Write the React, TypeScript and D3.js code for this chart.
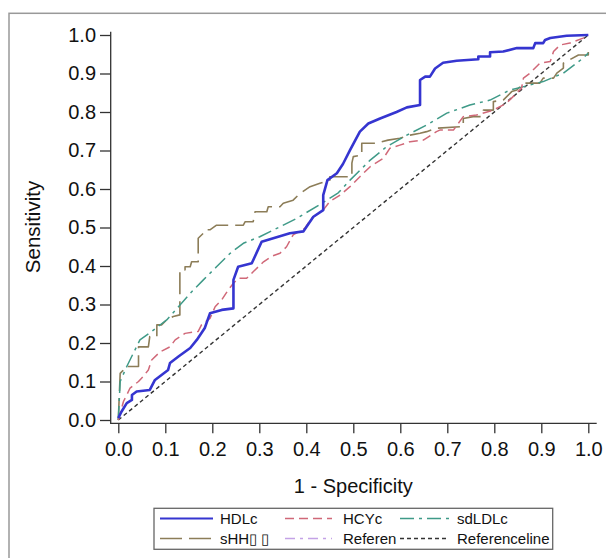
import { useRef, useEffect } from "react";
import * as d3 from "d3";

type Pt = [number, number];

// 1 - specificity, sensitivity
const hdlc: Pt[] = [
  [0, 0.005], [0.007, 0.022], [0.018, 0.044], [0.029, 0.052], [0.029, 0.065],
  [0.039, 0.074], [0.067, 0.078], [0.078, 0.104], [0.092, 0.117], [0.106, 0.13],
  [0.11, 0.148], [0.128, 0.165], [0.153, 0.187], [0.167, 0.208], [0.184, 0.239],
  [0.195, 0.277], [0.22, 0.286], [0.245, 0.29], [0.245, 0.364], [0.255, 0.398],
  [0.284, 0.407], [0.305, 0.463], [0.365, 0.485], [0.394, 0.49], [0.415, 0.528],
  [0.436, 0.545], [0.436, 0.584], [0.445, 0.623], [0.465, 0.641], [0.478, 0.665],
  [0.493, 0.701], [0.514, 0.749], [0.532, 0.77], [0.557, 0.783], [0.592, 0.8],
  [0.614, 0.812], [0.642, 0.818], [0.642, 0.883], [0.653, 0.892], [0.663, 0.892],
  [0.674, 0.913], [0.691, 0.928], [0.72, 0.933], [0.766, 0.937], [0.766, 0.944],
  [0.791, 0.944], [0.791, 0.955], [0.819, 0.957], [0.848, 0.966], [0.883, 0.966],
  [0.887, 0.979], [0.904, 0.979], [0.908, 0.987], [0.919, 0.992], [0.954, 0.998],
  [1, 1],
];

const hcyc: Pt[] = [
  [0, 0], [0.004, 0.017], [0.011, 0.048], [0.018, 0.065], [0.025, 0.083],
  [0.043, 0.1], [0.053, 0.113], [0.064, 0.13], [0.071, 0.156], [0.089, 0.177],
  [0.11, 0.19], [0.121, 0.208], [0.142, 0.225], [0.17, 0.23], [0.177, 0.247],
  [0.195, 0.264], [0.206, 0.294], [0.22, 0.312], [0.234, 0.338], [0.245, 0.355],
  [0.255, 0.368], [0.273, 0.368], [0.287, 0.385], [0.309, 0.411], [0.326, 0.425],
  [0.344, 0.433], [0.358, 0.45], [0.372, 0.481], [0.397, 0.498], [0.411, 0.524],
  [0.436, 0.545], [0.45, 0.568], [0.472, 0.584], [0.493, 0.606], [0.514, 0.632],
  [0.536, 0.658], [0.564, 0.68], [0.578, 0.706], [0.599, 0.714], [0.621, 0.723],
  [0.649, 0.727], [0.677, 0.749], [0.684, 0.753], [0.713, 0.753], [0.734, 0.788],
  [0.762, 0.792], [0.798, 0.805], [0.826, 0.823], [0.84, 0.84], [0.858, 0.862],
  [0.862, 0.888], [0.876, 0.901], [0.897, 0.927], [0.919, 0.931], [0.926, 0.957],
  [0.94, 0.974], [0.961, 0.979], [0.989, 0.992], [1, 1],
];

const sdldlc: Pt[] = [
  [0, 0], [0.004, 0.1], [0.018, 0.139], [0.046, 0.208], [0.071, 0.23],
  [0.103, 0.26], [0.128, 0.294], [0.153, 0.329], [0.181, 0.364], [0.209, 0.398],
  [0.238, 0.433], [0.266, 0.459], [0.301, 0.476], [0.344, 0.502], [0.38, 0.524],
  [0.436, 0.565], [0.468, 0.59], [0.493, 0.623], [0.536, 0.675], [0.571, 0.71],
  [0.614, 0.74], [0.656, 0.766], [0.699, 0.797], [0.748, 0.818], [0.791, 0.831],
  [0.833, 0.857], [0.876, 0.87], [0.904, 0.879], [0.947, 0.901], [0.989, 0.94],
  [1, 0.953],
];

const shhcy: Pt[] = [
  [0, 0], [0.004, 0.121], [0.011, 0.13], [0.014, 0.139], [0.032, 0.139],
  [0.043, 0.139], [0.043, 0.19], [0.064, 0.19], [0.067, 0.217], [0.082, 0.217],
  [0.082, 0.247], [0.092, 0.247], [0.103, 0.26], [0.117, 0.269], [0.131, 0.273],
  [0.131, 0.39], [0.142, 0.39], [0.142, 0.398], [0.153, 0.398], [0.156, 0.411],
  [0.17, 0.411], [0.17, 0.472], [0.181, 0.485], [0.184, 0.494], [0.195, 0.494],
  [0.209, 0.506], [0.266, 0.506], [0.27, 0.515], [0.287, 0.515], [0.291, 0.541],
  [0.316, 0.541], [0.319, 0.554], [0.344, 0.554], [0.351, 0.563], [0.372, 0.571],
  [0.387, 0.589], [0.408, 0.606], [0.429, 0.615], [0.45, 0.623], [0.45, 0.632],
  [0.497, 0.632], [0.497, 0.667], [0.5, 0.684], [0.518, 0.688], [0.518, 0.719],
  [0.55, 0.719], [0.574, 0.727], [0.599, 0.732], [0.621, 0.74], [0.642, 0.745],
  [0.656, 0.749], [0.677, 0.758], [0.734, 0.762], [0.734, 0.783], [0.755, 0.788],
  [0.773, 0.788], [0.777, 0.805], [0.798, 0.805], [0.798, 0.827], [0.819, 0.831],
  [0.837, 0.853], [0.848, 0.857], [0.862, 0.875], [0.897, 0.875], [0.904, 0.888],
  [0.926, 0.888], [0.933, 0.901], [0.947, 0.914], [0.947, 0.927], [0.979, 0.948],
  [1, 0.948], [1, 0.97],
];

const refLine: Pt[] = [[0, 0], [1, 1]];

const ticks = [0, 0.1, 0.2, 0.3, 0.4, 0.5, 0.6, 0.7, 0.8, 0.9, 1.0];

const series = [
  { name: "HDLc", data: hdlc, color: "#3535d0", width: 2.6, dash: "" },
  { name: "HCYc", data: hcyc, color: "#d06878", width: 1.5, dash: "9,5" },
  { name: "sdLDLc", data: sdldlc, color: "#3f9a88", width: 1.5, dash: "14,5,3,5" },
  { name: "sHH\u25AF \u25AF", data: shhcy, color: "#8c7d58", width: 1.6, dash: "22,7" },
  { name: "Referen", data: null, color: "#c4a2e6", width: 1.5, dash: "10,5,3,5" },
  { name: "Referenceline", data: refLine, color: "#333333", width: 1.4, dash: "4,3" },
];

const W = 606;
const H = 558;
const FONT = "'Liberation Sans', Arial, sans-serif";

const RocChart = () => {
  const svgRef = useRef<SVGSVGElement>(null);

  useEffect(() => {
    const svg = d3.select(svgRef.current);
    svg.selectAll("*").remove();

    const x = d3.scaleLinear().domain([0, 1]).range([118.3, 588.3]);
    const y = d3.scaleLinear().domain([0, 1]).range([420, 35]);
    const axisX = 110.7;
    const axisY = 423.3;

    // outer frame
    svg
      .append("rect")
      .attr("x", 9)
      .attr("y", 13.3)
      .attr("width", 700)
      .attr("height", 700)
      .attr("fill", "white")
      .attr("stroke", "#999")
      .attr("stroke-width", 1.5);

    // curves
    const line = d3
      .line<Pt>()
      .x((d) => x(d[0]))
      .y((d) => y(d[1]));

    const drawOrder = [5, 3, 2, 1, 0];
    drawOrder.forEach((i) => {
      const s = series[i];
      if (!s.data) return;
      svg
        .append("path")
        .attr("d", line(s.data))
        .attr("fill", "none")
        .attr("stroke", s.color)
        .attr("stroke-width", s.width)
        .attr("stroke-dasharray", s.dash || null)
        .attr("stroke-linejoin", "round");
    });

    // axes
    const fmt = d3.format(".1f");
    const gy = svg
      .append("g")
      .attr("transform", `translate(${axisX},0)`)
      .call(d3.axisLeft(y).tickValues(ticks).tickFormat((d) => fmt(+d)).tickSize(10.7).tickSizeOuter(0).tickPadding(4));
    const gx = svg
      .append("g")
      .attr("transform", `translate(0,${axisY})`)
      .call(d3.axisBottom(x).tickValues(ticks).tickFormat((d) => fmt(+d)).tickSize(10).tickPadding(9));
    [gx, gy].forEach((g) => {
      g.select(".domain").remove();
      g.selectAll("line").attr("stroke", "#333").attr("stroke-width", 1.3);
      g.selectAll("text")
        .attr("font-family", FONT)
        .attr("font-size", 20)
        .attr("fill", "#111");
    });
    svg
      .append("path")
      .attr("d", `M${axisX},31.7V${axisY}H596.7`)
      .attr("fill", "none")
      .attr("stroke", "#333")
      .attr("stroke-width", 1.3);

    // axis titles
    svg
      .append("text")
      .attr("x", (x(0) + x(1)) / 2)
      .attr("y", 493)
      .attr("text-anchor", "middle")
      .attr("font-family", FONT)
      .attr("font-size", 20)
      .attr("fill", "#111")
      .text("1 - Specificity");
    svg
      .append("text")
      .attr("transform", "translate(40,227) rotate(-90)")
      .attr("text-anchor", "middle")
      .attr("font-family", FONT)
      .attr("font-size", 20.5)
      .attr("fill", "#111")
      .text("Sensitivity");

    // legend
    const lg = svg.append("g");
    lg.append("rect")
      .attr("x", 154)
      .attr("y", 508.3)
      .attr("width", 398.7)
      .attr("height", 41)
      .attr("fill", "white")
      .attr("stroke", "#666")
      .attr("stroke-width", 1.3);
    const cols = [
      { x0: 160, x1: 213, tx: 220 },
      { x0: 285, x1: 332, tx: 343 },
      { x0: 400, x1: 449, tx: 457 },
    ];
    const rows = [518.5, 538.5];
    series.forEach((s, i) => {
      const c = cols[i % 3];
      const ry = rows[Math.floor(i / 3)];
      lg.append("line")
        .attr("x1", c.x0)
        .attr("x2", c.x1)
        .attr("y1", ry)
        .attr("y2", ry)
        .attr("stroke", s.color)
        .attr("stroke-width", i === 0 ? 2.2 : 1.5)
        .attr("stroke-dasharray", s.dash || null);
      lg.append("text")
        .attr("x", c.tx)
        .attr("y", ry)
        .attr("dy", "0.36em")
        .attr("font-family", FONT)
        .attr("font-size", 15)
        .attr("fill", "#111")
        .text(s.name);
    });
  }, []);

  return (
    <svg
      ref={svgRef}
      width={W}
      height={H}
      style={{ position: "absolute", left: 0, top: 0, background: "white" }}
    />
  );
};

export default function App() {
  return <RocChart />;
}
